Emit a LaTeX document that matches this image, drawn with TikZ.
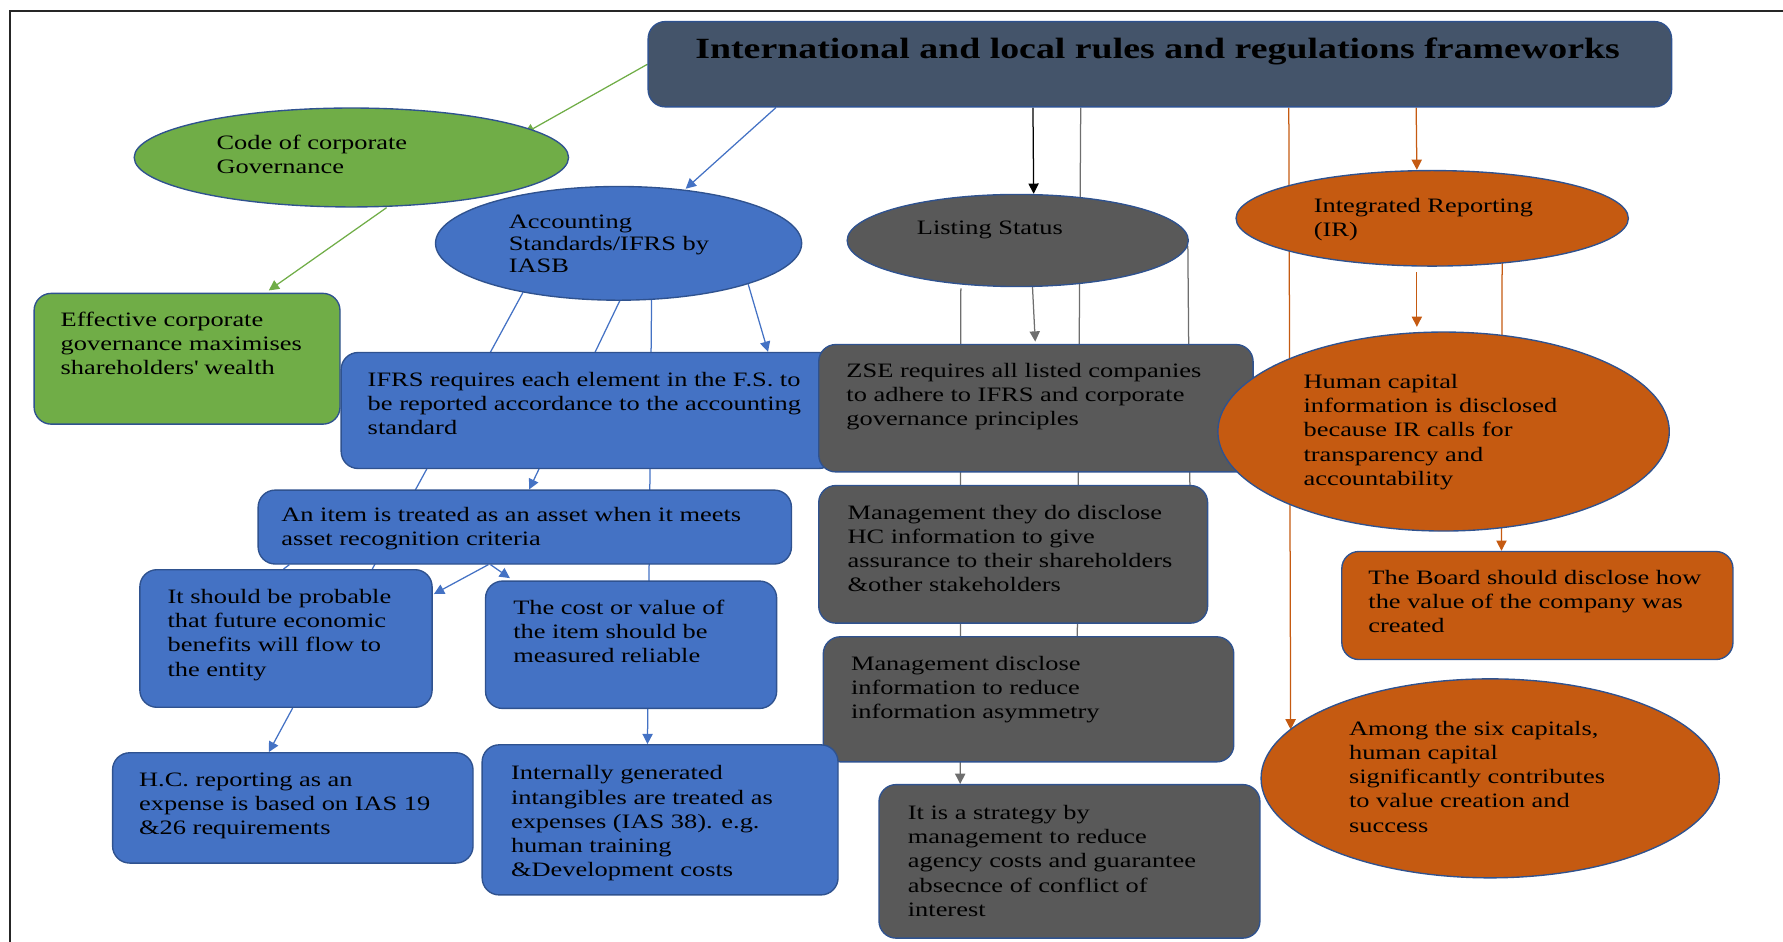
\documentclass[tikz,border=0pt]{standalone}
\usepackage{fontspec}
\setmainfont[FakeStretch=1.29]{Liberation Serif}
\usetikzlibrary{shapes.geometric,arrows.meta,calc}
\pgfdeclarelayer{bg}
\pgfsetlayers{bg,main}
\definecolor{cTitle}{HTML}{44546A}
\definecolor{cBord}{HTML}{2F528F}
\definecolor{cGreen}{HTML}{70AD47}
\definecolor{cBlue}{HTML}{4472C4}
\definecolor{cGray}{HTML}{595959}
\definecolor{cLine}{HTML}{6E6E6E}
\definecolor{cOrange}{HTML}{C55A11}
\begin{document}
\begin{tikzpicture}[x=0.5pt,y=-0.5pt,
  shp/.style={draw=cBord,line width=0.6pt,inner sep=0pt},
  rbox/.style={shp,rectangle,rounded corners=7.5pt},
  ell/.style={shp,ellipse},
  txt/.style={anchor=north west,inner sep=0pt,align=left,font=\fontsize{9}{10.6}\selectfont},
  con/.style={line width=0.55pt},
  arr/.style={con,-{Triangle[length=4.5pt,width=4.5pt]}},
]
\useasboundingbox (0,0) rectangle (1568,828);
\draw[line width=0.7pt,black!85] (9,830) -- (9,9.5) -- (1570,9.5);

% shapes
\node[rbox,fill=cTitle,minimum width=450pt,minimum height=37.5pt] (title) at (1020,56.5) {};
\node[ell,fill=cGreen,minimum width=191pt,minimum height=43.5pt] (code) at (309,138.5) {};
\node[ell,fill=cBlue,minimum width=161pt,minimum height=50pt] (acc) at (544,214) {};
\node[ell,fill=cGray,minimum width=150pt,minimum height=40.5pt] (list) at (895,211.5) {};
\node[ell,fill=cOrange,minimum width=172.5pt,minimum height=42pt] (ir) at (1259.5,192) {};
\node[rbox,fill=cGreen,minimum width=134.5pt,minimum height=57.5pt] (eff) at (164.5,315.5) {};
\node[rbox,fill=cBlue,minimum width=217.5pt,minimum height=51pt] (ifrs) at (517.5,361) {};
\node[rbox,fill=cGray,minimum width=191pt,minimum height=56pt] (zse) at (911,359) {};
\node[ell,fill=cOrange,minimum width=198.5pt,minimum height=87.5pt] (hc) at (1269.5,379.5) {};
\node[rbox,fill=cBlue,minimum width=234.5pt,minimum height=32.5pt] (item) at (461.5,463.5) {};
\node[rbox,fill=cGray,minimum width=171pt,minimum height=60.5pt] (mgmtA) at (891,487.5) {};
\node[rbox,fill=cOrange,minimum width=172pt,minimum height=47.5pt] (board) at (1352,532.5) {};
\node[rbox,fill=cBlue,minimum width=128.5pt,minimum height=60.5pt] (prob) at (251.5,561.5) {};
\node[rbox,fill=cBlue,minimum width=128pt,minimum height=56pt] (cost) at (555,567) {};
\node[rbox,fill=cGray,minimum width=180.5pt,minimum height=55pt] (mgmtB) at (904.5,615) {};
\node[ell,fill=cOrange,minimum width=201.5pt,minimum height=87.5pt] (among) at (1310.5,684.5) {};
\node[rbox,fill=cBlue,minimum width=158.5pt,minimum height=48.5pt] (hcrep) at (257.5,710.5) {};
\node[rbox,fill=cBlue,minimum width=156.5pt,minimum height=66pt] (intern) at (580.5,721) {};
\node[rbox,fill=cGray,minimum width=167.5pt,minimum height=67.5pt] (strat) at (940.5,757.5) {};

% texts
\node[inner sep=0pt,font=\bfseries\fontsize{12.9}{16}\selectfont] (t-title) at (1018,45) {International and local rules and regulations frameworks};
\node[txt] (t-code) at (190,118) {Code of corporate\\Governance};
\node[txt,font=\fontsize{9}{9.5}\selectfont] (t-acc) at (447,189) {Accounting\\Standards/IFRS by\\IASB};
\node[txt] (t-list) at (806,194) {Listing Status};
\node[txt] (t-ir) at (1155,174) {Integrated Reporting\\(IR)};
\node[txt] (t-eff) at (53,274) {Effective corporate\\governance maximises\\shareholders\textquotesingle\ wealth};
\node[txt] (t-ifrs) at (323,327) {IFRS requires each element in the F.S. to\\be reported accordance to the accounting\\standard};
\node[txt] (t-zse) at (744,319) {ZSE requires all listed companies\\to adhere to IFRS and corporate\\governance principles};
\node[txt] (t-hc) at (1146,329) {Human capital\\information is disclosed\\because IR calls for\\transparency and\\accountability};
\node[txt] (t-item) at (247,446) {An item is treated as an asset when it meets\\asset recognition criteria};
\node[txt] (t-mgmtA) at (745,444) {Management they do disclose\\HC information to give\\assurance to their shareholders\\\&other stakeholders};
\node[txt] (t-board) at (1203,501) {The Board should disclose how\\the value of the company was\\created};
\node[txt] (t-prob) at (147,518) {It should be probable\\that future economic\\benefits will flow to\\the entity};
\node[txt] (t-cost) at (451,527) {The cost or value of\\the item should be\\measured reliable};
\node[txt] (t-mgmtB) at (748,577) {Management disclose\\information to reduce\\information asymmetry};
\node[txt] (t-among) at (1186,634) {Among the six capitals,\\human capital\\significantly contributes\\to value creation and\\success};
\node[txt] (t-hcrep) at (122,679) {H.C. reporting as an\\expense is based on IAS 19\\\&26 requirements};
\node[txt] (t-intern) at (449,673) {Internally generated\\intangibles are treated as\\expenses (IAS 38). e.g.\\human training\\\&Development costs};
\node[txt] (t-strat) at (798,708) {It is a strategy by\\management to reduce\\agency costs and guarantee\\absecnce of conflict of\\interest};

\begin{pgfonlayer}{bg}
% green
\draw[arr,cGreen] (title.west) -- ($(code.center)+(152,-21)$);
\draw[arr,cGreen] ($(code.south)+(31,0)$) -- ($(eff.north west)+(207,-2)$);
% blue
\draw[arr,cBlue] ($(title.south west)+(113,0)$) -- ($(acc.center)+(59,-48)$);
\draw[con,cBlue] ($(acc.center)+(-84,43)$) -- ($(prob.north west)+(205,0)$);
\draw[arr,cBlue] ($(acc.south)+(1,0)$) -- ($(item.north west)+(239,0)$);
\draw[arr,cBlue] ($(acc.center)+(29,49)$) -- ($(intern.north west)+(146,0)$);
\draw[arr,cBlue] ($(acc.center)+(114,36)$) -- ($(ifrs.north west)+(376,0)$);
\draw[con,cBlue] ($(item.south west)+(28,0)$) -- ($(prob.north west)+(127,0)$);
\draw[arr,cBlue] ($(item.south west)+(203,0)$) -- ($(prob.north east)+(1,22)$);
\draw[arr,cBlue] ($(item.south west)+(205,0)$) -- ($(cost.north west)+(22,-2)$);
\draw[arr,cBlue] ($(prob.south west)+(135,0)$) -- ($(hcrep.north west)+(138,0)$);
% black / gray
\draw[arr,black] ($(title.south west)+(339,0)$) -- ($(list.north)+(14,0)$);
\draw[con,cLine] ($(title.south west)+(381,0)$) -- ($(mgmtB.north west)+(224,0)$);
\draw[arr,cLine] ($(list.center)+(-50,42)$) -- ($(strat.north west)+(72,0)$);
\draw[arr,cLine] ($(list.south)+(13,0)$) -- ($(zse.north west)+(191,-2)$);
\draw[con,cLine] ($(list.east)+(-1,5)$) -- ($(mgmtA.north west)+(327,0)$);
% orange
\draw[arr,cOrange] ($(title.south west)+(564,0)$) -- ($(among.center)+(-175.5,-43)$);
\draw[arr,cOrange] ($(title.south west)+(676,0)$) -- ($(ir.north)+(-13.5,0)$);
\draw[arr,cOrange] ($(ir.south)+(-13.5,5)$) -- ($(hc.north)+(-23.5,-4)$);
\draw[arr,cOrange] ($(ir.center)+(61.5,39)$) -- ($(board.north west)+(141,0)$);
\end{pgfonlayer}
\end{tikzpicture}
\end{document}
